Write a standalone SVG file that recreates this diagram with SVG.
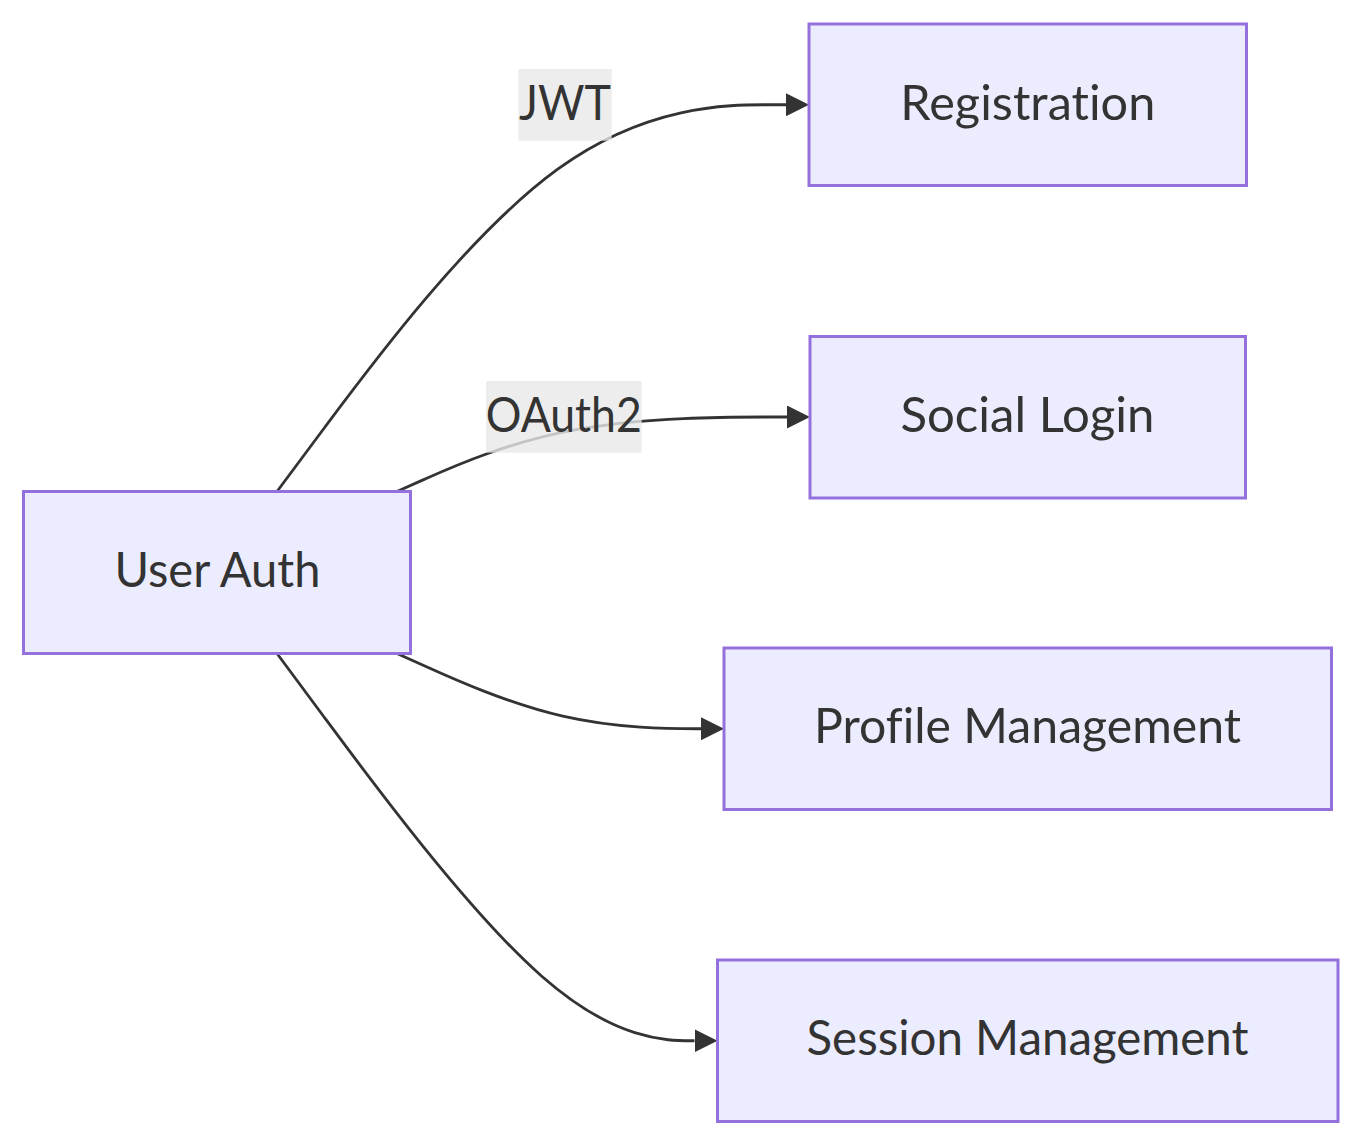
<svg xmlns="http://www.w3.org/2000/svg" width="1362" height="1146" viewBox="0 0 1362 1146">
<style>
  .node rect { fill: #ECECFF; stroke: #9370DB; stroke-width: 3; }
  .node text, .label text { font-family: "Trebuchet MS", "Lato", "Open Sans", "DejaVu Sans", sans-serif; font-size: 48px; fill: #333333; text-anchor: middle; font-variant-ligatures: none; font-feature-settings: "liga" 0, "clig" 0; }
  .edge { fill: none; stroke: #333333; stroke-width: 2.8; marker-end: url(#arrow); }
  .label rect { fill: #e8e8e8; fill-opacity: 0.8; }
</style>
<defs>
  <marker id="arrow" viewBox="0 0 10 10" refX="0" refY="5" markerWidth="23" markerHeight="23" markerUnits="userSpaceOnUse" orient="auto">
    <path d="M0,0 L10,5 L0,10 z" fill="#333333"/>
  </marker>
</defs>
<rect x="0" y="0" width="1362" height="1146" fill="#ffffff"/>
<g id="connectors">
  <path class="edge" d="M277,491.5 L325,427 C373,362.6 469,233.7 557.7,169.2 C646.3,104.75 727.7,104.75 768.3,104.75 L786,104.75"/>
  <path class="edge" d="M397,491.5 L424.8,479.1 C452.7,466.7 508.3,441.8 577.2,429.4 C646,417 728,417 769,417 L787,417"/>
  <path class="edge" d="M397,653.5 L424.8,666 C452.7,678.6 508.3,703.7 562.8,716.2 C617.3,728.75 670.7,728.75 697.3,728.75 L701,728.75"/>
  <path class="edge" d="M277,653.5 L324.8,718 C372.7,782.6 468.3,911.7 541.75,976.2 C615.2,1040.75 666.3,1040.75 691.9,1040.75 L694.5,1040.75"/>
</g>
<g id="edge-labels">
  <g id="label-jwt" class="label">
    <rect x="518.3" y="69" width="93.4" height="71.7"/>
    <text x="565" y="120" textLength="92" lengthAdjust="spacingAndGlyphs">JWT</text>
  </g>
  <g id="label-oauth2" class="label">
    <rect x="486" y="381" width="155.7" height="71.7"/>
    <text x="563.8" y="431.7" textLength="156" lengthAdjust="spacingAndGlyphs">OAuth2</text>
  </g>
</g>
<g id="node-userauth" class="node">
  <rect x="23.5" y="491.5" width="387" height="162"/>
  <text x="217.5" y="587" textLength="206" lengthAdjust="spacingAndGlyphs">User Auth</text>
</g>
<g id="node-registration" class="node">
  <rect x="809" y="24" width="437.5" height="161.5"/>
  <text x="1027.8" y="120" textLength="255" lengthAdjust="spacingAndGlyphs">Registration</text>
</g>
<g id="node-sociallogin" class="node">
  <rect x="810" y="336.5" width="435.5" height="161.5"/>
  <text x="1027.5" y="432" textLength="254" lengthAdjust="spacingAndGlyphs">Social Login</text>
</g>
<g id="node-profile" class="node">
  <rect x="724" y="648" width="607.5" height="161.5"/>
  <text x="1027.5" y="743" textLength="427" lengthAdjust="spacingAndGlyphs">Profile Management</text>
</g>
<g id="node-session" class="node">
  <rect x="717.5" y="960" width="620.5" height="161.5"/>
  <text x="1027.5" y="1055" textLength="442" lengthAdjust="spacingAndGlyphs">Session Management</text>
</g>
</svg>
